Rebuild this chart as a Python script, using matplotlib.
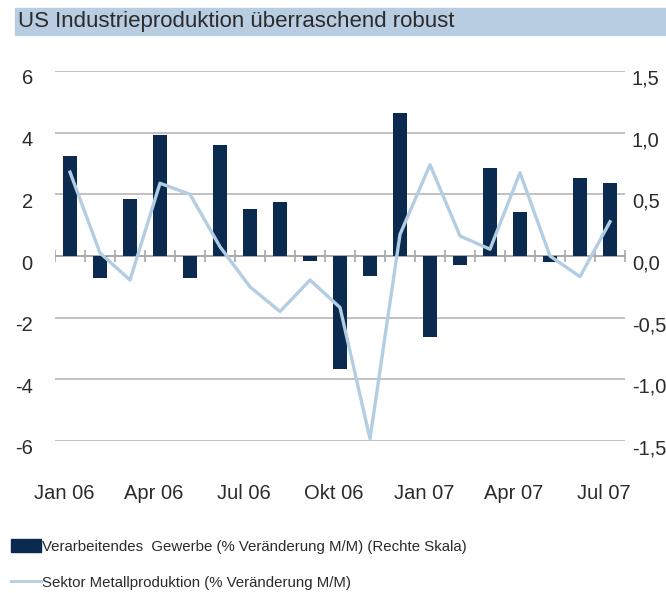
import numpy as np
import matplotlib
matplotlib.use("Agg")
import matplotlib.pyplot as plt
import matplotlib.transforms as mtransforms
from matplotlib.patches import Rectangle
from matplotlib.lines import Line2D

plt.rcParams['font.family'] = ['Liberation Sans', 'DejaVu Sans']
plt.rcParams['axes.unicode_minus'] = False

# data
months = ["Jan 06", "Feb 06", "Mär 06", "Apr 06", "Mai 06", "Jun 06", "Jul 06",
          "Aug 06", "Sep 06", "Okt 06", "Nov 06", "Dez 06", "Jan 07", "Feb 07",
          "Mär 07", "Apr 07", "Mai 07", "Jun 07", "Jul 07"]
gewerbe = [0.81, -0.18, 0.46, 0.98, -0.18, 0.90, 0.38, 0.44, -0.04, -0.92,
           -0.16, 1.16, -0.66, -0.07, 0.71, 0.36, -0.05, 0.63, 0.59]
metall = [2.72, 0.10, -0.78, 2.36, 2.00, 0.30, -1.00, -1.80, -0.78, -1.67,
          -5.93, 0.70, 2.96, 0.65, 0.22, 2.70, 0.00, -0.67, 1.11]
left_ticks = [-6, -4, -2, 0, 2, 4, 6]
right_ticks = [-1.5, -1.0, -0.5, 0.0, 0.5, 1.0, 1.5]
label_step = 3

title = "US Industrieproduktion überraschend robust"
label_bar = "Verarbeitendes  Gewerbe (% Veränderung M/M) (Rechte Skala)"
label_line = "Sektor Metallproduktion (% Veränderung M/M)"

BAR_COLOR = "#0b2a50"
LINE_COLOR = "#b3cde3"
GRID_COLOR = "#bcbcbc"
TEXT_COLOR = "#2b2b2b"

W, H = 666, 593
fig = plt.figure(figsize=(W / 100, H / 100), dpi=100)

# title bar
fig.patches.append(Rectangle((15 / W, 1 - 35 / H), 1 - 15 / W, 27 / H,
                             transform=fig.transFigure, color="#b9cde2",
                             zorder=0))
fig.text(18 / W, 1 - 22 / H, title, fontsize=16, color=TEXT_COLOR,
         va="center", ha="left")

ax_rect = [55 / W, 1 - 441 / H, 570 / W, 370 / H]
ax2 = fig.add_axes(ax_rect)          # bars, right scale (behind)
ax = fig.add_axes(ax_rect, sharex=ax2)  # line, left scale (front)
ax.patch.set_visible(False)

x = np.arange(len(months))

# bars + grid on the back axis
ax2.set_ylim(right_ticks[0], right_ticks[-1])
ax2.set_yticks(right_ticks)
ax2.set_yticklabels([f"{v:.1f}".replace(".", ",") for v in right_ticks])
ax2.yaxis.tick_right()
ax2.grid(axis="y", color=GRID_COLOR, lw=1.3)
ax2.set_axisbelow(True)
ax2.bar(x, gewerbe, width=0.47, color=BAR_COLOR, zorder=2)
ax2.axhline(0, color="#a8a8a8", lw=1.3, zorder=1)
bounds = np.arange(len(months) + 1) - 0.5
ax2.plot(bounds, np.zeros_like(bounds), ls="none", marker="|", ms=9,
         mew=1.2, color="#a8a8a8", zorder=1)

# line on the front axis
ax.plot(x, metall, color=LINE_COLOR, lw=2.4, zorder=3)
ax.set_ylim(left_ticks[0], left_ticks[-1])
ax.set_yticks(left_ticks)
ax.set_xlim(-0.5, len(months) - 0.5)
ax.set_xticks(x[::label_step])
ax.set_xticklabels(months[::label_step])

for a in (ax, ax2):
    for s in a.spines.values():
        s.set_visible(False)
    a.tick_params(length=0, labelsize=14.5, colors=TEXT_COLOR)
ax.tick_params(axis="y", pad=16)
ax2.tick_params(axis="y", pad=5)
ax.tick_params(axis="x", pad=31)
ax2.tick_params(axis="x", labelbottom=False)

# tick labels sit a bit below their gridlines / left of the bars
down = mtransforms.ScaledTranslation(0, -6 / 100, fig.dpi_scale_trans)
for lab in ax.get_yticklabels() + ax2.get_yticklabels():
    lab.set_transform(lab.get_transform() + down)
left = mtransforms.ScaledTranslation(-6 / 100, 0, fig.dpi_scale_trans)
for lab in ax.get_xticklabels():
    lab.set_transform(lab.get_transform() + left)

handles = [Rectangle((0, 0), 1, 1, color=BAR_COLOR),
           Line2D([], [], color=LINE_COLOR, lw=2)]
fig.legend(handles, [label_bar, label_line], loc="upper left",
           bbox_to_anchor=(11 / W, 1 - 539 / H), frameon=False,
           fontsize=10.8, handlelength=2.0, handleheight=1.0,
           handletextpad=0.05, labelspacing=1.4, borderpad=0,
           borderaxespad=0, labelcolor=TEXT_COLOR)

fig.savefig("out.png", dpi=100)
